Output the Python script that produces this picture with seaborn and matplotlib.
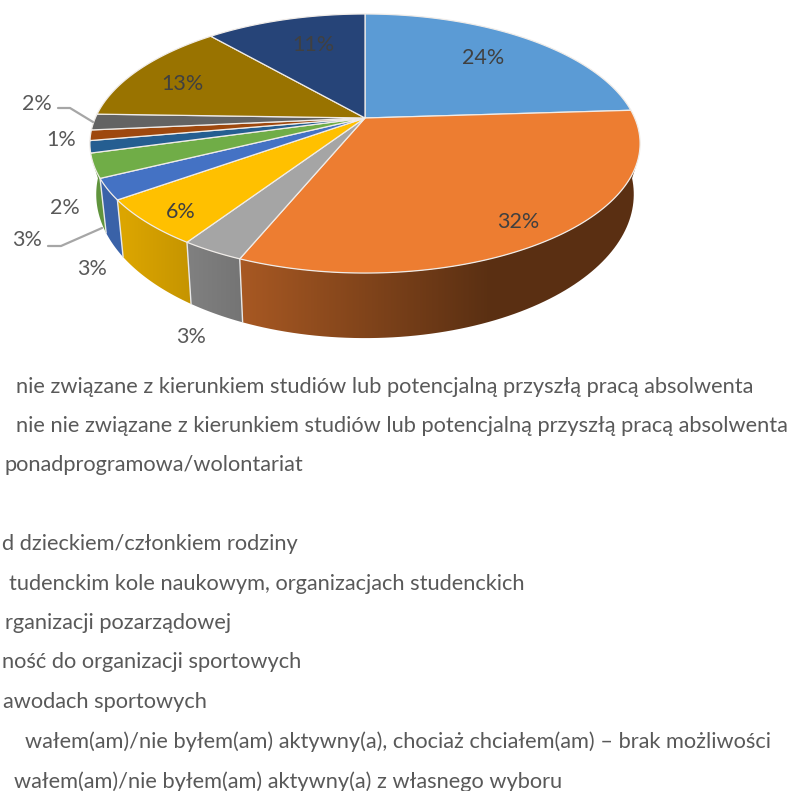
import numpy as np
import seaborn as sns
import matplotlib
matplotlib.use('Agg')
import matplotlib.pyplot as plt
from matplotlib.patches import Polygon

# slice shares (percent), clockwise from the top
values = [24.0, 32.2, 3.1, 5.8, 2.6, 3.0, 1.5, 1.3, 2.0, 13.1, 11.4]
colors = ['#5B9BD5', '#ED7D31', '#A5A5A5', '#FFC000', '#4472C4', '#70AD47',
          '#255E91', '#9E480E', '#636363', '#997300', '#264478']
# legend rows, the left part is cut off in the original picture
legend_rows = [
    'nie związane z kierunkiem studiów lub potencjalną przyszłą pracą absolwenta',
    'nie nie związane z kierunkiem studiów lub potencjalną przyszłą pracą absolwenta',
    'ponadprogramowa/wolontariat',
    '',
    'd dzieckiem/członkiem rodziny',
    'tudenckim kole naukowym, organizacjach studenckich',
    'rganizacji pozarządowej',
    'ność do organizacji sportowych',
    'awodach sportowych',
    'wałem(am)/nie byłem(am) aktywny(a), chociaż chciałem(am) – brak możliwości',
    'wałem(am)/nie byłem(am) aktywny(a) z własnego wyboru',
]

# layout, in pixels of the picture
label_pos = [(483, 58), (518, 222), (191, 337), (181, 212), (92, 269), (27, 240),
             (65, 208), (61, 140), (37, 104), (182, 84), (313, 45)]
legend_y = [387, 426, 465, 504, 544, 584, 623, 662, 702, 742, 782]
legend_right = [753, 788, 303, 0, 298, 525, 231, 301, 207, 771, 562]
CX, CY = 365, 118
RX, RY, TILT = 269.7, 124.5, 0.197
FRONT_FROM, FRONT_TO = 109, 250


def top_rim(t):
    x, y = np.sin(np.deg2rad(t)), np.cos(np.deg2rad(t))
    w = 1 + TILT * y
    return RX * x / w, -RY * y / w


def rim_points(t):
    X, Y = top_rim(t)
    return np.column_stack([CX + X, CY + Y])


def bottom_points(t):
    X, Y = top_rim(t)
    return np.column_stack([CX + 0.977 * X, CY + 48 + 1.11 * Y])


sns.set_theme(style='white')
plt.rcParams['font.family'] = ['Lato', 'DejaVu Sans']

fig = plt.figure(figsize=(7.89, 7.91), dpi=100)
ax = fig.add_axes([0, 0, 1, 1])
palette = sns.color_palette(colors)

# let pie work out the angles, then draw them tilted
wedges, _ = ax.pie(values, startangle=90, counterclock=False)
spans = [(90 - w.theta2, 90 - w.theta1) for w in wedges]
for w in wedges:
    w.remove()

# side wall, darker towards the right
shade_x = [125, 490]
shade_f = [0.86, 0.38]
for (t1, t2), c in zip(spans, palette):
    a, b = max(t1, FRONT_FROM), min(t2, FRONT_TO)
    if a >= b:
        continue
    a2 = 95 if t1 <= FRONT_FROM else t1
    b2 = 265 if t2 >= FRONT_TO else t2
    top = rim_points(np.linspace(a, b, 80))
    bottom = bottom_points(np.linspace(b2, a2, 80))
    pts = np.vstack([top, bottom])
    xs = np.arange(int(pts[:, 0].min()) - 1, int(pts[:, 0].max()) + 2)
    f = np.interp(xs, shade_x, shade_f)
    grad = np.clip(np.outer(f, c), 0, 1)[np.newaxis, :, :]
    im = ax.imshow(grad, extent=(xs[0], xs[-1], pts[:, 1].max() + 1, pts[:, 1].min() - 1),
                   aspect='auto', interpolation='bilinear', zorder=2)
    patch = Polygon(pts, closed=True, fc='none', ec='none', transform=ax.transData)
    ax.add_patch(patch)
    im.set_clip_path(patch)
    # white seams between the wall pieces
    if t1 >= FRONT_FROM:
        seam = np.vstack([rim_points(np.array([t1])), bottom_points(np.array([t1]))])
        ax.plot(seam[:, 0], seam[:, 1], color='#e8e8e8', lw=1, zorder=3)

# top face
for (t1, t2), c in zip(spans, palette):
    rim = rim_points(np.linspace(t1, t2, 120))
    ax.add_patch(Polygon(np.vstack([[CX, CY], rim]), closed=True, fc=c,
                         ec='#f0ece8', lw=0.9, zorder=4))

# leader lines
ax.plot([58, 70, 93], [108, 108, 122], color='#a6a6a6', lw=1.6, zorder=5)
ax.plot([48, 61, 102], [246, 246, 228], color='#a6a6a6', lw=1.6, zorder=5)

# percent labels
for i, (v, (x, y)) in enumerate(zip(values, label_pos)):
    inside = i in (0, 1, 3, 9, 10)
    ax.text(x, y, f'{round(v)}%', ha='center', va='center', fontsize=15.5,
            color='#404040' if inside else '#595959', zorder=6)

# legend rows, anchored on their right end because the left is cropped
for row, y, right in zip(legend_rows, legend_y, legend_right):
    if row:
        ax.text(right, y, row, ha='right', va='center', fontsize=15.7, color='#595959', zorder=6)

ax.set_xlim(0, 789)
ax.set_ylim(791, 0)
ax.set_aspect('auto')
ax.set_axis_off()
fig.savefig('out.png', dpi=100)
